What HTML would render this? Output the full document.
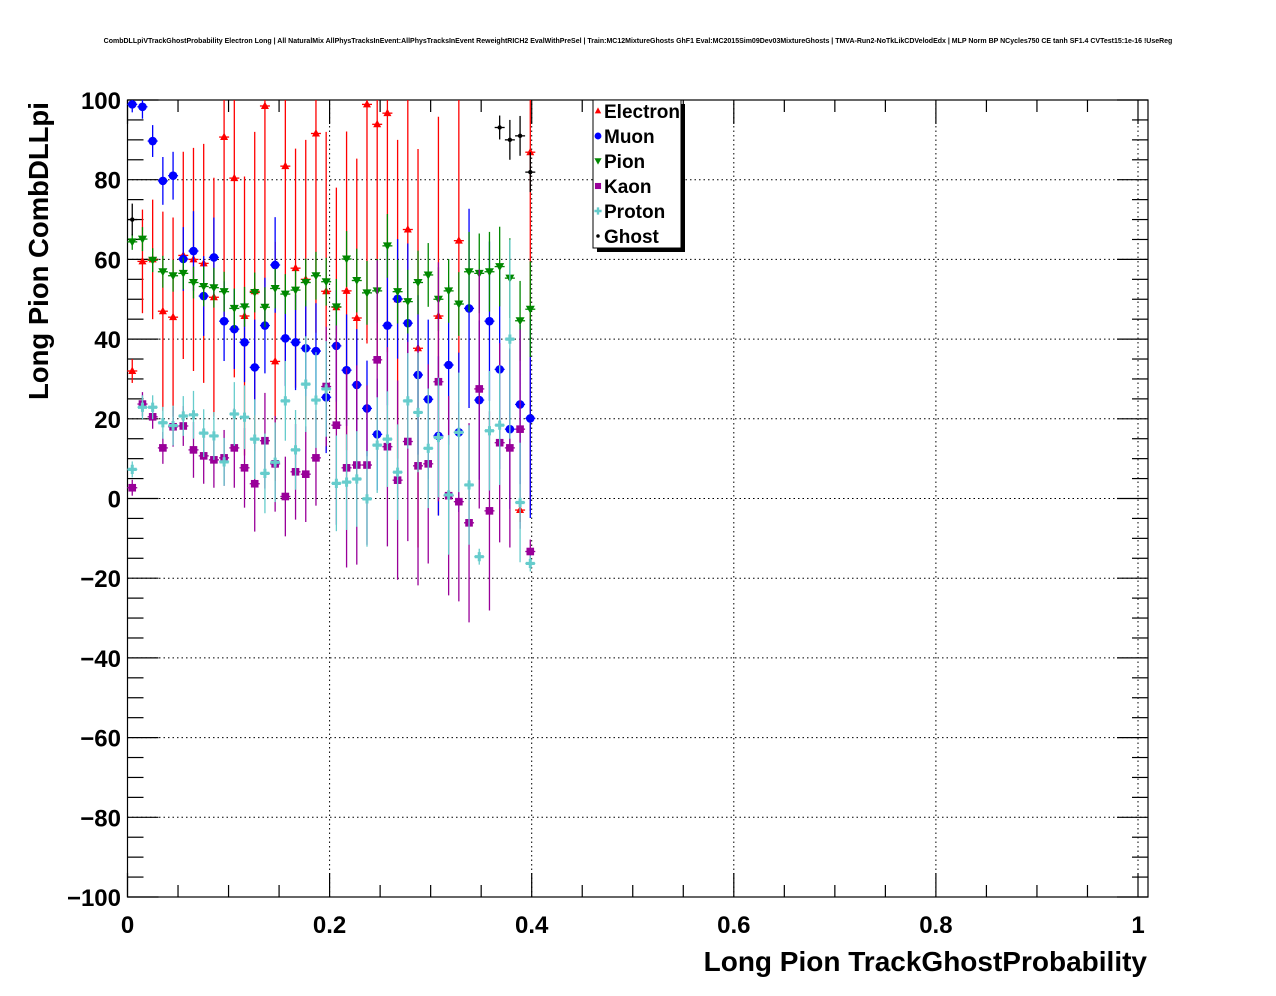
<!DOCTYPE html>
<html><head><meta charset="utf-8">
<style>
html,body{margin:0;padding:0;background:#fff;}
svg{display:block;font-family:"Liberation Sans",sans-serif;}
</style></head>
<body>
<svg id="chart" width="1276" height="996" viewBox="0 0 1276 996">
<text x="638" y="43" font-size="7.0" font-weight="bold" text-anchor="middle">CombDLLpiVTrackGhostProbability Electron Long | All NaturalMix AllPhysTracksInEvent:AllPhysTracksInEvent ReweightRICH2 EvalWithPreSel | Train:MC12MixtureGhosts GhF1 Eval:MC2015Sim09Dev03MixtureGhosts | TMVA-Run2-NoTkLikCDVelodEdx | MLP Norm BP NCycles750 CE tanh SF1.4 CVTest15:1e-16 !UseReg</text>
<g id="grid"></g>
<g id="axes"></g>
<g id="marks"></g>
<text x="1147" y="971" font-size="28" font-weight="bold" text-anchor="end">Long Pion TrackGhostProbability</text>
<text transform="translate(48,400) rotate(-90)" font-size="27.5" font-weight="bold" text-anchor="start">Long Pion CombDLLpi</text>
<g id="legend">
<rect x="597" y="104" width="88" height="148" fill="#000"/>
<rect x="593" y="100" width="88" height="148" fill="#fff" stroke="#000" stroke-width="1"/>
</g>
</svg>
<script>
const xTicks = [0, 0.2, 0.4, 0.6, 0.8, 1];
const xTickLabels = ["0", "0.2", "0.4", "0.6", "0.8", "1"];
const yTicks = [-100, -80, -60, -40, -20, 0, 20, 40, 60, 80, 100];
const yTickLabels = ["\u2212100", "\u221280", "\u221260", "\u221240", "\u221220", "0", "20", "40", "60", "80", "100"];
const binCenters = [0.0047,0.0148,0.0249,0.0350,0.0451,0.0552,0.0653,0.0754,0.0855,0.0956,0.1057,0.1158,0.1259,0.1360,0.1461,0.1562,0.1663,0.1764,0.1865,0.1966,0.2067,0.2168,0.2269,0.2370,0.2471,0.2572,0.2673,0.2774,0.2875,0.2976,0.3077,0.3178,0.3279,0.3380,0.3481,0.3582,0.3683,0.3784,0.3885,0.3986];
const electronVals = [32,59.5,60,47,45.5,61,60,59,50.5,90.7,80.4,45.8,52,98.5,34.4,83.4,57.8,55,91.6,52,48,52.1,45.3,98.9,93.9,96.7,50,67.5,37.7,null,45.8,null,64.7,null,null,null,null,null,-2.9,86.9];
const electronErr = [3,13,15,25,25,26,28,30,30,45,50,35,40,55,30,55,30,35,50,40,30,40,40,60,60,60,40,55,50,40,50,40,40,40,40,40,40,40,3,90];
const muonVals = [98.9,98.3,89.7,79.7,81,60.1,62.1,50.8,60.5,44.5,42.5,39.2,32.9,43.4,58.6,40.2,39.2,37.7,37,25.4,38.3,32.2,28.5,22.6,16.1,43.4,50.1,44,31,24.9,15.7,33.5,16.6,47.7,24.7,44.5,32.4,17.4,23.6,20.1];
const muonErr = [2,3,4,6,6,8,10,10,10,10,10,10,12,12,12,12,12,12,12,14,14,14,14,12,14,20,15,20,20,20,20,20,20,25,20,20,25,20,20,25];
const pionVals = [64.4,65.1,59.8,56.9,55.9,56.5,54.2,53.2,52.9,51.9,47.7,48.1,51.7,48,52.7,51.3,52.3,54.2,55.9,54.4,48.1,60.1,54.7,51.6,52.1,63.4,51.9,49.4,54.2,56.1,50,52.1,48.8,56.9,56.5,56.9,58.2,55.3,44.6,47.5];
const pionErr = [2,3,3,4,4,4,4,5,5,5,5,5,5,5,5,5,5,6,6,6,7,7,8,8,8,8,8,8,8,8,8,8,8,10,10,10,10,10,10,12];
const kaonVals = [2.7,23.7,20.5,12.7,18,18.2,12.2,10.7,9.7,10.2,12.7,7.7,3.7,14.5,8.7,0.5,6.7,6.1,10.2,28.1,18.4,7.7,8.4,8.4,34.8,13,4.6,14.3,8.2,8.7,29.3,0.7,-0.8,-6.1,27.5,-3.1,14,12.7,17.4,-13.3];
const kaonErr = [2,3,3,4,5,5,7,7,7,7,10,10,12,12,12,10,12,12,12,15,25,25,25,20,25,25,25,25,30,25,30,25,25,25,30,25,25,25,25,3];
const protonVals = [7.3,22.9,22.9,19,18.3,20.7,21,16.4,15.7,9.2,21.2,20.4,14.9,6.3,9.1,24.5,12.2,28.7,24.7,27.5,3.8,4.1,4.9,-0.1,13.4,14.9,6.6,24.5,21.6,12.6,15.3,0.9,16.6,3.4,-14.6,17,18.4,40,-1,-16.3];
const protonErr = [2,3,3,4,5,5,6,6,6,6,8,8,10,10,10,10,10,12,12,12,12,12,12,12,12,12,12,12,15,15,15,15,15,15,2,15,15,25,15,2];
const ghostVals = [70,null,null,null,null,null,null,null,null,null,null,null,null,null,null,null,null,null,null,null,null,null,null,null,null,null,null,null,null,null,null,null,null,null,null,null,93.1,90,91,81.9];
const ghostErr = [4,0,0,0,0,0,0,0,0,0,0,0,0,0,0,0,0,0,0,0,0,0,0,0,0,0,0,0,0,0,0,0,0,0,0,0,3,5,5,5];
const seriesNames = ["Electron","Muon","Pion","Kaon","Proton","Ghost"];

const NS = "http://www.w3.org/2000/svg";
const X0 = 127.5, XS = 1010.5, XR = 1148, Y0 = 897, Y1 = 100;
const xs = v => X0 + v * XS;
const ys = v => Y0 - (v + 100) / 200 * (Y0 - Y1);
function mk(tag, attrs, parent) {
  const e = document.createElementNS(NS, tag);
  for (const k in attrs) e.setAttribute(k, attrs[k]);
  parent.appendChild(e);
  return e;
}
const grid = document.getElementById('grid');
const axes = document.getElementById('axes');
const marks = document.getElementById('marks');
const legend = document.getElementById('legend');

xTicks.forEach(t => {
  if (t === 0) return;
  const l = mk('line', {x1: xs(t), x2: xs(t), y1: Y0, y2: Y1, stroke: '#000', 'stroke-width': 1, 'stroke-dasharray': '1.5,3'}, grid);
  
  
});
yTicks.forEach(t => {
  if (t === -100 || t === 100) return;
  const l = mk('line', {x1: X0, x2: XR, y1: ys(t), y2: ys(t), stroke: '#000', 'stroke-width': 1, 'stroke-dasharray': '1.5,3'}, grid);
  
  
});
const fr = mk('rect', {x: X0, y: Y1, width: XR - X0, height: Y0 - Y1, fill: 'none', stroke: '#000', 'stroke-width': 1.2}, axes);


for (let i = 0; i <= 20; i++) {
  const v = i * 0.05, major = i % 4 === 0, len = major ? 24 : 12;
  mk('line', {x1: xs(v), x2: xs(v), y1: Y0, y2: Y0 - len, stroke: '#000', 'stroke-width': 1.2}, axes);
  mk('line', {x1: xs(v), x2: xs(v), y1: Y1, y2: Y1 + len, stroke: '#000', 'stroke-width': 1.2}, axes);
}
xTicks.forEach((t, i) => {
  const tx = mk('text', {x: xs(t), y: 933, 'font-size': 24, 'font-weight': 'bold', 'text-anchor': 'middle'}, axes);
  tx.textContent = xTickLabels[i];
  
  
});
for (let i = 0; i <= 40; i++) {
  const v = -100 + i * 5, major = i % 4 === 0, len = major ? 31 : 16;
  mk('line', {x1: X0, x2: X0 + len, y1: ys(v), y2: ys(v), stroke: '#000', 'stroke-width': 1.2}, axes);
  mk('line', {x1: XR, x2: XR - len, y1: ys(v), y2: ys(v), stroke: '#000', 'stroke-width': 1.2}, axes);
}
yTicks.forEach((t, i) => {
  const tx = mk('text', {x: 121, y: ys(t) + 9, 'font-size': 24, 'font-weight': 'bold', 'text-anchor': 'end'}, axes);
  tx.textContent = yTickLabels[i];
  
  
});

function marker(g, type, cx, cy, col, s) {
  if (type === 'tri-up') mk('polygon', {points: `${cx},${cy - 4.5*s} ${cx - 4*s},${cy + 3*s} ${cx + 4*s},${cy + 3*s}`, fill: col}, g);
  else if (type === 'circle') mk('circle', {cx, cy, r: 4.3*s, fill: col}, g);
  else if (type === 'tri-down') mk('polygon', {points: `${cx},${cy + 4.5*s} ${cx - 4.5*s},${cy - 3.5*s} ${cx + 4.5*s},${cy - 3.5*s}`, fill: col}, g);
  else if (type === 'square') mk('rect', {x: cx - 3.8*s, y: cy - 3.8*s, width: 7.6*s, height: 7.6*s, fill: col}, g);
  else if (type === 'cross') mk('path', {d: `M${cx-4.5*s},${cy-1.6*s}h${3*s}v${-3*s}h${3*s}v${3*s}h${3*s}v${3.2*s}h${-3*s}v${3*s}h${-3*s}v${-3*s}h${-3*s}z`, fill: col}, g);
  else if (type === 'dot') mk('circle', {cx, cy, r: 2.2*s, fill: col}, g);
}
const series = [
  {name: seriesNames[0], vals: electronVals, err: electronErr, col: '#ff0000', m: 'tri-up'},
  {name: seriesNames[1], vals: muonVals, err: muonErr, col: '#0000ff', m: 'circle'},
  {name: seriesNames[2], vals: pionVals, err: pionErr, col: '#008800', m: 'tri-down'},
  {name: seriesNames[3], vals: kaonVals, err: kaonErr, col: '#990099', m: 'square'},
  {name: seriesNames[4], vals: protonVals, err: protonErr, col: '#66cccc', m: 'cross'},
  {name: seriesNames[5], vals: ghostVals, err: ghostErr, col: '#000000', m: 'dot'}
];
const clipY = v => Math.max(Y1, Math.min(Y0, v));
series.forEach((s, si) => {
  const g = mk('g', {}, marks);
  
  
  s.vals.forEach((v, i) => {
    if (v === null) return;
    const cx = xs(binCenters[i]), cy = ys(v), e = s.err[i];
    const p = mk('g', {}, g);
    
    
    mk('line', {x1: cx, x2: cx, y1: clipY(ys(v + e)), y2: clipY(ys(v - e)), stroke: s.col, 'stroke-width': 1.3}, p);
    mk('line', {x1: cx - 5, x2: cx + 5, y1: cy, y2: cy, stroke: s.col, 'stroke-width': 1.3}, p);
    marker(p, s.m, cx, cy, s.col, 1);
  });
  const le = mk('g', {}, legend);
  
  
  const ly = 111 + si * 25;
  marker(le, s.m, 598, ly, s.col, 0.8);
  const t = mk('text', {x: 604, y: ly + 7, 'font-size': 19, 'font-weight': 'bold'}, le);
  t.textContent = s.name;
});
</script>
</body></html>
